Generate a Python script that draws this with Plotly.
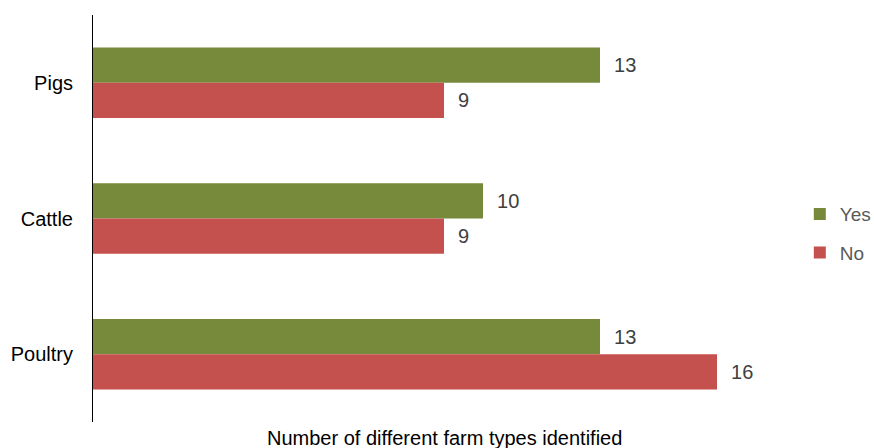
import plotly.graph_objects as go

categories = ["Pigs", "Cattle", "Poultry"]
yes_values = [13, 10, 13]
no_values = [9, 9, 16]
series_names = ["Yes", "No"]
x_title = "Number of different farm types identified"

GREEN = "#77893A"
RED = "#C4514D"
FONT = "Liberation Sans, Arial, sans-serif"

fig = go.Figure()
for name, vals, col in [(series_names[0], yes_values, GREEN), (series_names[1], no_values, RED)]:
    fig.add_trace(go.Bar(
        y=categories, x=vals, name=name, orientation="h",
        marker=dict(color=col, line=dict(width=0)),
        text=vals, texttemplate="  %{x}", textposition="outside",
        textfont=dict(family=FONT, size=20, color="#404040"),
        cliponaxis=False, legendgroup=name,
    ))

fig.update_layout(
    width=874, height=448,
    margin=dict(l=93, r=0, t=15, b=26, autoexpand=False),
    barmode="group", bargap=0.48, bargroupgap=0,
    plot_bgcolor="white", paper_bgcolor="white",
    font=dict(family=FONT, size=20, color="#000000"),
    showlegend=True,
    legend=dict(x=0.905, y=0.463, xanchor="left", yanchor="middle",
                font=dict(family=FONT, size=19, color="#595959"),
                traceorder="grouped", tracegroupgap=11,
                bgcolor="rgba(0,0,0,0)"),
)
fig.update_xaxes(range=[0, 18], domain=[0, 702 / 781], showticklabels=False,
                 showgrid=False, zeroline=False, showline=False, ticks="")
fig.update_yaxes(autorange="reversed", showline=True, linecolor="#000000",
                 linewidth=1, ticks="", showgrid=False,
                 tickfont=dict(family=FONT, size=20, color="#000000"),
                 ticklabelstandoff=15)
fig.add_annotation(text=x_title, xref="x domain", yref="paper", x=0.5, y=-0.039,
                   xanchor="center", yanchor="middle", showarrow=False,
                   font=dict(family=FONT, size=20, color="#000000"))
fig.write_html("out.html")
